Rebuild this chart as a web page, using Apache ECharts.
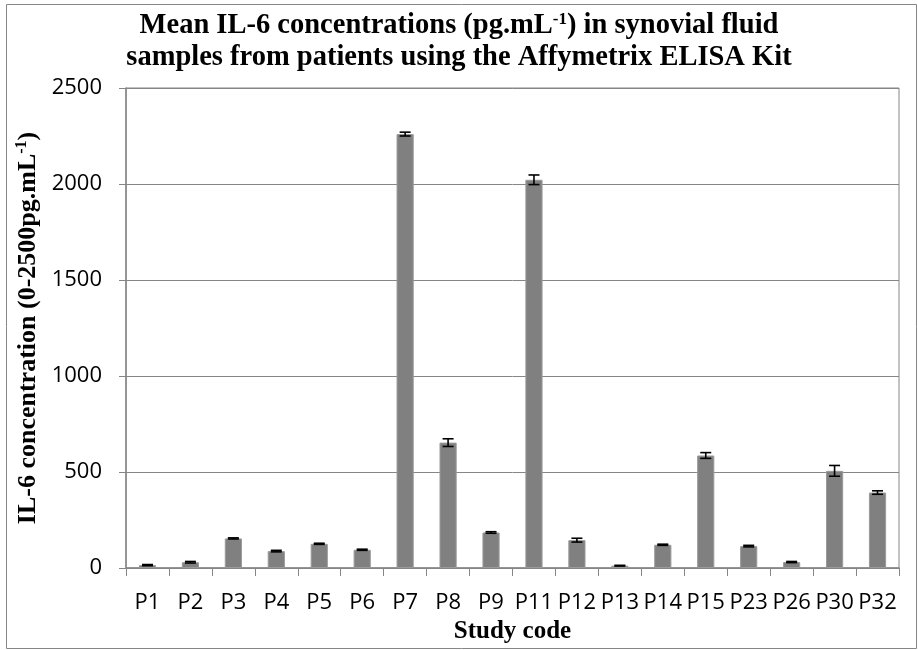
<!DOCTYPE html>
<html>
<head>
<meta charset="utf-8">
<script src="https://cdn.jsdelivr.net/npm/echarts@6/dist/echarts.min.js"></script>
<style>
  html, body { margin: 0; padding: 0; background: #fff; }
  #chart { width: 918px; height: 650px; }
</style>
</head>
<body>
<div id="chart"></div>
<script>
// Study codes along the x axis
const studyCodes = ['P1', 'P2', 'P3', 'P4', 'P5', 'P6', 'P7', 'P8', 'P9', 'P11', 'P12', 'P13', 'P14', 'P15', 'P23', 'P26', 'P30', 'P32'];
// Mean IL-6 concentration (pg/mL) per patient
const meanIL6 = [15, 30, 154, 88, 126, 95, 2260, 653, 185, 2022, 145, 12, 121, 586, 114, 31, 506, 393];
// Error (+/-) for each mean
const errIL6 = [3, 4, 3, 4, 3, 3, 10, 20, 4, 25, 10, 2, 3, 15, 4, 3, 28, 9];
// Value axis ticks
const yMin = 0, yMax = 2500, yStep = 500;

const serif = '"Liberation Serif", "Times New Roman", serif';
const sans = '"Open Sans", "Noto Sans", sans-serif';
const axisGray = '#868686';

const chart = echarts.init(document.getElementById('chart'));

const errData = studyCodes.map((c, i) => [i, meanIL6[i] - errIL6[i], meanIL6[i] + errIL6[i]]);

chart.setOption({
  animation: false,
  backgroundColor: '#fff',
  graphic: [{
    type: 'rect',
    shape: { x: 6.5, y: 4.5, width: 910, height: 644 },
    style: { fill: 'none', stroke: axisGray, lineWidth: 1 },
    z: -10
  }],
  title: {
    text: 'Mean IL-6 concentrations (pg.mL{sup|-1}) in synovial fluid\nsamples from patients using the Affymetrix ELISA Kit',
    left: 'center',
    top: 5,
    padding: [5, 0, 5, 30],
    textStyle: {
      fontFamily: serif,
      fontWeight: 'bold',
      fontSize: 28.5,
      lineHeight: 32,
      color: '#000',
      rich: {
        sup: { fontFamily: serif, fontWeight: 'bold', fontSize: 17, lineHeight: 32, padding: [0, 0, 12, 0], color: '#000' }
      }
    }
  },
  grid: {
    left: 126, right: 19, top: 88, bottom: 82,
    show: true, borderColor: axisGray, borderWidth: 1
  },
  xAxis: {
    type: 'category',
    data: studyCodes,
    name: 'Study code',
    nameLocation: 'middle',
    nameGap: 43,
    nameTextStyle: { fontFamily: serif, fontWeight: 'bold', fontSize: 25, color: '#000' },
    axisLine: { lineStyle: { color: axisGray, width: 1.5 } },
    axisTick: { show: true, length: 8, lineStyle: { color: axisGray } },
    axisLabel: { interval: 0, margin: 24, fontFamily: sans, fontSize: 22, color: '#000' }
  },
  yAxis: {
    type: 'value',
    min: yMin, max: yMax, interval: yStep,
    name: 'IL-6 concentration (0-2500pg.mL{sup|-1})',
    nameLocation: 'middle',
    nameGap: 76,
    nameTextStyle: {
      fontFamily: serif, fontWeight: 'bold', fontSize: 26, color: '#000',
      rich: { sup: { fontFamily: serif, fontWeight: 'bold', fontSize: 16, padding: [0, 0, 12, 0], color: '#000' } }
    },
    axisLine: { show: true, lineStyle: { color: axisGray, width: 1.5 } },
    axisTick: { show: true, length: 7, lineStyle: { color: axisGray } },
    splitLine: { lineStyle: { color: axisGray, width: 1 } },
    axisLabel: { margin: 24, fontFamily: sans, fontSize: 22, color: '#000', formatter: v => String(v) }
  },
  series: [
    {
      type: 'bar',
      data: meanIL6,
      barWidth: '40%',
      itemStyle: { color: '#808080', borderColor: '#9a9a9a', borderWidth: 1 },
      z: 2
    },
    {
      type: 'custom',
      data: errData,
      z: 3,
      renderItem: function (params, api) {
        const x = api.value(0);
        const lo = api.coord([x, api.value(1)]);
        const hi = api.coord([x, api.value(2)]);
        const half = 5.5;
        const style = { stroke: '#000', lineWidth: 1.6 };
        return {
          type: 'group',
          children: [
            { type: 'line', shape: { x1: hi[0], y1: hi[1], x2: lo[0], y2: lo[1] }, style: style },
            { type: 'line', shape: { x1: hi[0] - half, y1: hi[1], x2: hi[0] + half, y2: hi[1] }, style: style },
            { type: 'line', shape: { x1: lo[0] - half, y1: lo[1], x2: lo[0] + half, y2: lo[1] }, style: style }
          ]
        };
      }
    }
  ]
});
</script>
</body>
</html>
